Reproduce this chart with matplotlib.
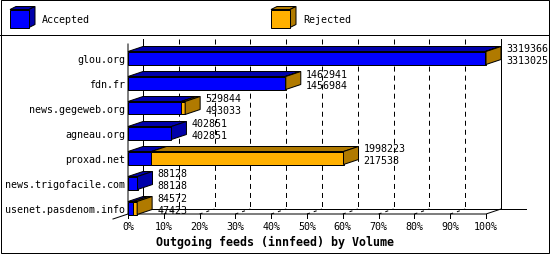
import matplotlib
matplotlib.use("Agg")
import matplotlib.pyplot as plt
from matplotlib.patches import Polygon, Rectangle

plt.rcParams['lines.scale_dashes'] = False

# ---------------- data ----------------
categories = ["glou.org", "fdn.fr", "news.gegeweb.org", "agneau.org",
              "proxad.net", "news.trigofacile.com", "usenet.pasdenom.info"]
offered = [3319366, 1462941, 529844, 402851, 1998223, 88128, 84572]
accepted = [3313025, 1456984, 493033, 402851, 217538, 88128, 47423]
pct_ticks = [0, 10, 20, 30, 40, 50, 60, 70, 80, 90, 100]
series_names = ["Accepted", "Rejected"]
title = "Outgoing feeds (innfeed) by Volume"

# ---------------- style ----------------
front_cols = ["#0000ff", "#ffb000"]
shade_cols = ["#0000aa", "#b07a00"]
MONO = "DejaVu Sans Mono"
FS = 7.2
LW = 0.72

W, H = 550, 255
fig = plt.figure(figsize=(W / 100, H / 100), dpi=100)
fig.patch.set_facecolor("white")

# pixel overlay axes for frame + legend
pax = fig.add_axes([0, 0, 1, 1])
pax.set_xlim(0, W)
pax.set_ylim(H, 0)
pax.axis("off")
pax.add_patch(Rectangle((0.5, 0.5), W - 1.2, H - 1.2, fill=False, ec="black", lw=LW, clip_on=False))
pax.plot([0, W], [35.5, 35.5], color="black", lw=LW, clip_on=False)

def cube(x, y, w, h, dx, dy, fc, sc):
    pax.add_patch(Polygon([(x, y), (x + w, y), (x + w + dx, y - dy), (x + dx, y - dy)],
                          closed=True, fc=sc, ec="black", lw=LW))
    pax.add_patch(Polygon([(x + w, y), (x + w + dx, y - dy), (x + w + dx, y + h - dy), (x + w, y + h)],
                          closed=True, fc=sc, ec="black", lw=LW))
    pax.add_patch(Rectangle((x, y), w, h, fc=fc, ec="black", lw=LW))

legend_x = [10, 271]
for k, name in enumerate(series_names):
    cube(legend_x[k], 10.5, 19, 18, 6, 3, front_cols[k], shade_cols[k])
    pax.text(legend_x[k] + 32, 20, name, family=MONO, fontsize=FS, ha="left", va="center")

# ---------------- data axes ----------------
vmax = max(offered)
PX = vmax / 358.0           # data units per pixel (x)
def yd(py):                 # pixel row -> category coordinate
    return (py - 59) / 25.0

ax = fig.add_axes([128 / W, 40 / H, 398 / W, 175 / H])
ax.set_xlim(0, 398 * PX)
ax.set_ylim(yd(215), yd(40))
ax.axis("off")

DX = 15 * PX
DY = 5 / 25.0
HALF = 6.5 / 25.0

# back grid (dashed)
for p in pct_ticks[1:-1]:
    xv = p / 100 * vmax
    ax.plot([xv + DX, xv + DX], [yd(40), yd(210)], color="black", lw=LW,
            ls=(0, (3.6, 2.9)), zorder=1, clip_on=False)
    ax.plot([xv, xv + DX], [yd(215), yd(210)], color="black", lw=LW,
            ls=(0, (2.2, 2.9)), zorder=1, clip_on=False)

# walls / axes
ax.plot([DX, DX], [yd(40), yd(210)], color="black", lw=LW, zorder=1, clip_on=False)
ax.plot([vmax + DX, vmax + DX], [yd(40), yd(210)], color="black", lw=LW, zorder=1, clip_on=False)
ax.plot([DX, 398 * PX], [yd(210), yd(210)], color="black", lw=LW, zorder=1, clip_on=False)
ax.plot([0, 0, vmax, vmax + DX], [yd(45), yd(215), yd(215), yd(210)],
        color="black", lw=LW, zorder=2, clip_on=False)
ax.plot([-15 * PX, 0], [yd(220), yd(215)], color="black", lw=LW, zorder=2, clip_on=False)

for p in pct_ticks:
    xv = p / 100 * vmax
    ax.plot([xv, xv], [yd(215), yd(219)], color="black", lw=LW, zorder=2, clip_on=False)
    ax.text(xv, yd(227), f"{p}%", family=MONO, fontsize=FS, ha="center", va="center")

# bars
for i, (name, tot, acc) in enumerate(zip(categories, offered, accepted)):
    segs = [(0, acc, 0), (acc, tot, 1)]
    segs = [s for s in segs if s[1] > s[0]]
    top, bot = i - HALF, i + HALF
    for j, (s, e, c) in enumerate(segs):
        ax.add_patch(Polygon([(s, top), (e, top), (e + DX, top - DY), (s + DX, top - DY)],
                             closed=True, fc=shade_cols[c], ec="black", lw=LW, zorder=3, clip_on=False))
        ax.add_patch(Rectangle((s, top), e - s, bot - top, fc=front_cols[c], ec="black",
                               lw=LW, zorder=4, clip_on=False))
        if j == len(segs) - 1:
            ax.add_patch(Polygon([(e, top), (e + DX, top - DY), (e + DX, bot - DY), (e, bot)],
                                 closed=True, fc=shade_cols[c], ec="black", lw=LW, zorder=4, clip_on=False))
    xl = tot + DX + 5 * PX
    ax.text(xl, i - 9.5 / 25, f"{tot}", family=MONO, fontsize=FS, ha="left", va="center", zorder=5)
    ax.text(xl, i + 2 / 25, f"{acc}", family=MONO, fontsize=FS, ha="left", va="center", zorder=5)
    ax.text(-3 * PX, i + 1 / 25, name, family=MONO, fontsize=FS, ha="right", va="center")

fig.text(275 / W, 1 - 242 / H, title, family=MONO, fontsize=8.4, fontweight="bold",
         ha="center", va="center")

fig.savefig("out.png", dpi=100)
